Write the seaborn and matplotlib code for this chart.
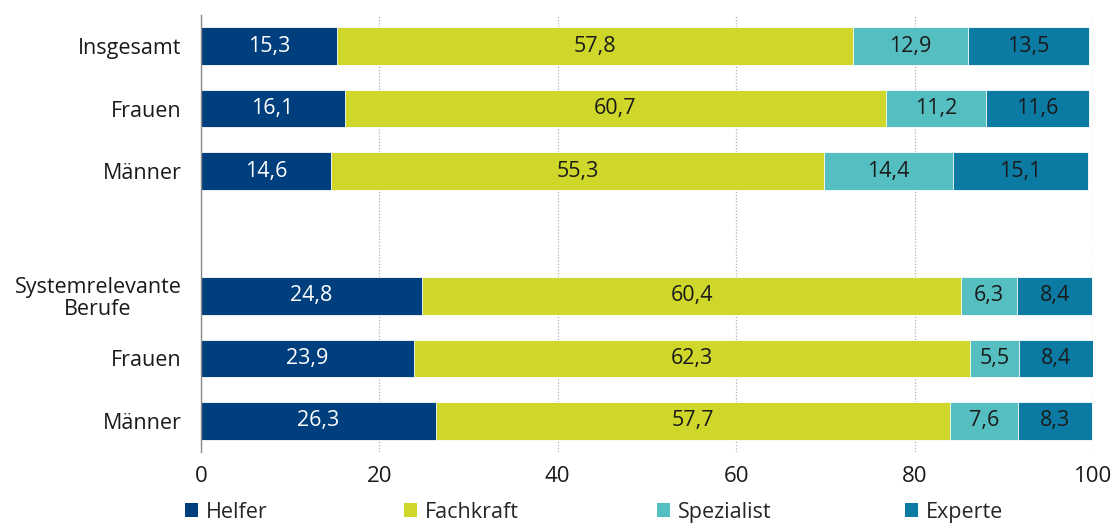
import matplotlib
matplotlib.use("Agg")
import matplotlib.pyplot as plt
import seaborn as sns
import pandas as pd
import numpy as np
from matplotlib.patches import Patch

categories = ["Insgesamt", "Frauen", "Männer", "", "Systemrelevante\nBerufe", "Frauen", "Männer"]
keys = ["k0", "k1", "k2", "gap", "k4", "k5", "k6"]
series = ["Helfer", "Fachkraft", "Spezialist", "Experte"]
helfer = [15.3, 16.1, 14.6, np.nan, 24.8, 23.9, 26.3]
fachkraft = [57.8, 60.7, 55.3, np.nan, 60.4, 62.3, 57.7]
spezialist = [12.9, 11.2, 14.4, np.nan, 6.3, 5.5, 7.6]
experte = [13.5, 11.6, 15.1, np.nan, 8.4, 8.4, 8.3]
colors = ["#003F7D", "#CFD72B", "#55BEC0", "#0B7BA3"]
text_colors = ["white", "#1a1a1a", "#1a1a1a", "#1a1a1a"]

sns.set_theme(style="white")
plt.rcParams["font.family"] = ["Open Sans", "DejaVu Sans"]
FS = 15.5

df = pd.DataFrame({"key": keys, "Helfer": helfer, "Fachkraft": fachkraft,
                   "Spezialist": spezialist, "Experte": experte})
df = df[df["key"] != "gap"]
vals = df[series].to_numpy()
cum = np.cumsum(vals, axis=1)

fig = plt.figure(figsize=(11.16, 5.27), dpi=100)
ax = fig.add_axes([0.180, 1 - 452 / 527, 0.9794 - 0.180, (452 - 15) / 527])

for i in range(len(series) - 1, -1, -1):
    d = pd.DataFrame({"key": df["key"], "v": cum[:, i]})
    sns.barplot(data=d, x="v", y="key", order=keys, orient="h", color=colors[i],
                saturation=1, width=0.6, edgecolor="white", linewidth=0.6, ax=ax,
                errorbar=None)

pos = {k: j for j, k in enumerate(keys)}
for r, k in enumerate(df["key"]):
    for i in range(len(series)):
        start = cum[r, i] - vals[r, i]
        ax.text(start + vals[r, i] / 2, pos[k], f"{vals[r, i]:.1f}".replace(".", ","),
                ha="center", va="center", color=text_colors[i], fontsize=FS)

ax.set_xlim(0, 100)
ax.set_ylim(6.5, -0.5)
ax.set_xticks([0, 20, 40, 60, 80, 100])
ax.set_xticklabels(["0", "20", "40", "60", "80", "100"], fontsize=FS + 0.5, color="#1a1a1a")
ax.set_yticks(range(len(keys)))
ax.set_yticklabels(categories, fontsize=FS, color="#1a1a1a", linespacing=1.05,
                   multialignment="center")
ax.tick_params(axis="x", pad=10, length=0)
ax.tick_params(axis="y", pad=14, length=0)
ax.set_xlabel("")
ax.set_ylabel("")
ax.set_axisbelow(True)
ax.grid(axis="x", linestyle=(0, (1, 1.5)), color="#b0b0b0", linewidth=0.9)
ax.grid(axis="y", visible=False)
for s in ["top", "right", "bottom"]:
    ax.spines[s].set_visible(False)
ax.spines["left"].set_color("#8a8a8a")
ax.spines["left"].set_linewidth(1.0)

marker_x = [185, 404, 657, 905]
for c, name, mx in zip(colors, series, marker_x):
    h = Patch(facecolor=c, edgecolor="none")
    fig.legend([h], [name], loc="center left", bbox_to_anchor=(mx / 1116, 0.028),
               frameon=False, fontsize=FS, handlelength=0.6, handleheight=0.6,
               handletextpad=0.35, borderpad=0, borderaxespad=0)

fig.savefig("out.png", dpi=100)
